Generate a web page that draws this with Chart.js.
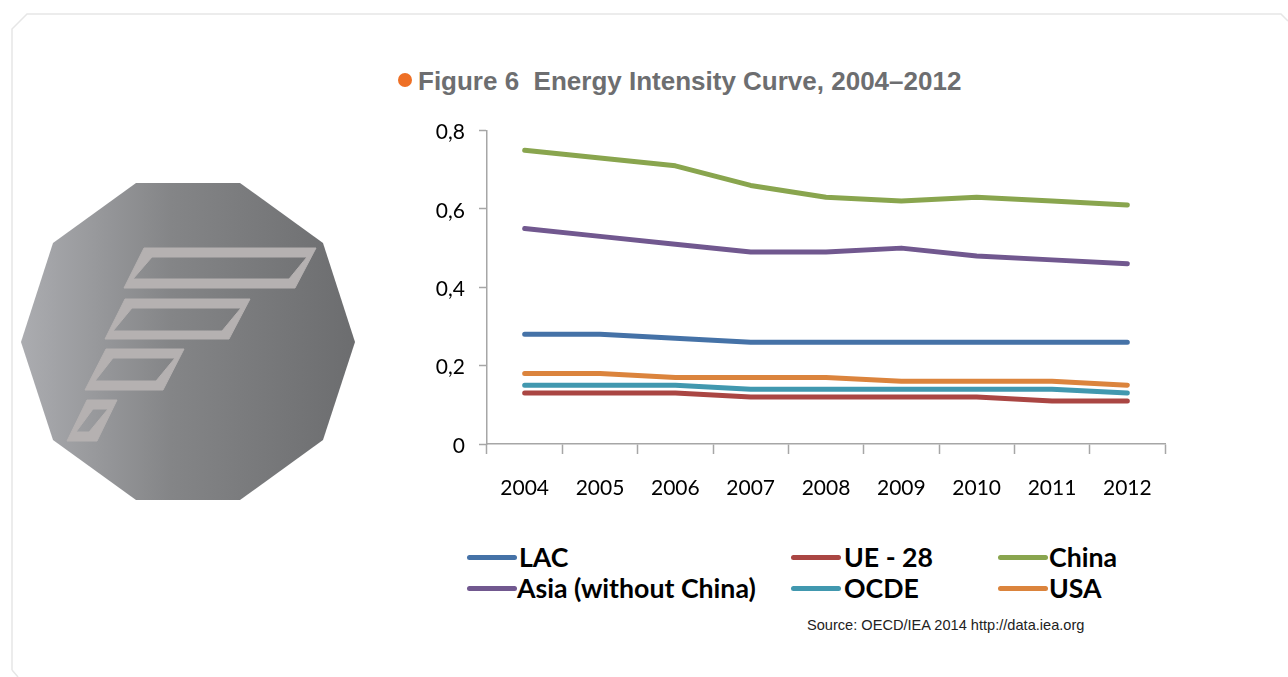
<!DOCTYPE html>
<html>
<head>
<meta charset="utf-8">
<title>Energy Intensity Curve</title>
<script src="https://cdn.jsdelivr.net/npm/chart.js@4"></script>
<style>
    html, body { margin: 0; padding: 0; background: #fff; overflow: hidden; }
    #page { position: relative; width: 1288px; height: 677px; overflow: hidden; }
    #page svg { position: absolute; left: 0; top: 0; }
    #chartBox { position: absolute; left: 400px; top: 104px; width: 800px; height: 406px; }
    #title {
        position: absolute; left: 418px; top: 66px; white-space: nowrap;
        font: bold 26px "Liberation Sans", sans-serif; color: #6d6e70;
    }
    #source {
        position: absolute; left: 807px; top: 617px; white-space: nowrap;
        font: 14.6px "Liberation Sans", sans-serif; color: #222;
    }
    .legendItem { position: absolute; height: 32px; white-space: nowrap; }
    .legendItem i { position: absolute; left: 0; top: 14px; width: 50px; height: 5px; border-radius: 3px; }
    .legendItem span {
        position: absolute; top: 0;
        font: bold 26.7px/32px Lato, sans-serif; color: #000;
    }
</style>
</head>
<body>
<div id="page">
    <svg width="1288" height="677">
        <defs>
            <linearGradient id="badge" x1="21" x2="355" y1="0" y2="0" gradientUnits="userSpaceOnUse">
                <stop offset="0" stop-color="#abacb0"/>
                <stop offset="0.45" stop-color="#848587"/>
                <stop offset="1" stop-color="#6c6d6f"/>
            </linearGradient>
        </defs>
        <path d="M12 670V29L27 14H1281L1288 21M12 670L18 677" fill="none" stroke="#e6e6e6" stroke-width="1.5"/>
        <polygon points="136,183 240,183 323,243 355,342 323,440 240,500 136,500 53,440 21,342 53,243" fill="url(#badge)"/>
        <g fill="#b5b1b1" fill-rule="evenodd" stroke="#b5b1b1" stroke-width="1" stroke-linejoin="round">
            <path d="M144 248H316L295 288H124Z M152 257L133 279H289L307 257Z"/>
            <path d="M125 299H250L229 339H105Z M132 308L113 331H222L241 308Z"/>
            <path d="M106 349H184L163 390H85Z M113 358L95 381H156L175 358Z"/>
            <path d="M87 400H117L97 441H67Z M93 409L76 432H89L108 409Z"/>
        </g>
        <circle cx="405" cy="80" r="7" fill="#ee6f25"/>
    </svg>
    <div id="title">Figure 6&nbsp; Energy Intensity Curve, 2004&#8211;2012</div>
    <div id="chartBox"><canvas id="energyChart"></canvas></div>
    <div id="legend"></div>
    <div id="source">Source: OECD/IEA 2014 http://data.iea.org</div>
</div>

<script>
const years = ['2004', '2005', '2006', '2007', '2008', '2009', '2010', '2011', '2012'];

const lac = [0.28, 0.28, 0.27, 0.26, 0.26, 0.26, 0.26, 0.26, 0.26];
const ue28 = [0.13, 0.13, 0.13, 0.12, 0.12, 0.12, 0.12, 0.11, 0.11];
const china = [0.75, 0.73, 0.71, 0.66, 0.63, 0.62, 0.63, 0.62, 0.61];
const asia = [0.55, 0.53, 0.51, 0.49, 0.49, 0.50, 0.48, 0.47, 0.46];
const ocde = [0.15, 0.15, 0.15, 0.14, 0.14, 0.14, 0.14, 0.14, 0.13];
const usa = [0.18, 0.18, 0.17, 0.17, 0.17, 0.16, 0.16, 0.16, 0.15];

const seriesNames = ['LAC', 'UE - 28', 'China', 'Asia (without China)', 'OCDE', 'USA'];
const seriesValues = [lac, ue28, china, asia, ocde, usa];
const seriesColors = ['#4572a7', '#aa4643', '#89a54e', '#71588f', '#4198af', '#db843d'];

// legend slots: swatch left, label left, row top
const legendSlots = [
    [467, 519, 541], [791, 844, 541], [998, 1049, 541],
    [467, 517, 572], [791, 844, 572], [998, 1049, 572]
];

const axisColor = '#a6a6a6';
const tickFont = { family: 'Lato, sans-serif', size: 21 };

new Chart(document.getElementById('energyChart'), {
    type: 'line',
    data: {
        labels: years,
        datasets: seriesNames.map((name, i) => ({
            label: name,
            data: seriesValues[i],
            borderColor: seriesColors[i],
            backgroundColor: seriesColors[i],
            borderWidth: 5,
            borderCapStyle: 'round',
            borderJoinStyle: 'round',
            pointRadius: 0,
            tension: 0
        }))
    },
    options: {
        responsive: true,
        maintainAspectRatio: false,
        animation: false,
        layout: { padding: { left: 0, right: 35, top: 15, bottom: 0 } },
        plugins: { legend: { display: false }, title: { display: false }, tooltip: { enabled: false } },
        scales: {
            x: {
                offset: true,
                afterFit: (scale) => { scale.height = 66; },
                grid: {
                    offset: true,
                    drawOnChartArea: false,
                    drawTicks: true,
                    tickLength: 10,
                    tickColor: axisColor,
                    tickWidth: 1.5
                },
                border: { color: axisColor, width: 1.5 },
                ticks: { color: '#000', font: tickFont, padding: 22, maxRotation: 0, autoSkip: false }
            },
            y: {
                min: 0,
                max: 0.8,
                afterFit: (scale) => { scale.width = 87; },
                grid: {
                    drawOnChartArea: false,
                    drawTicks: true,
                    tickLength: 8,
                    tickColor: axisColor,
                    tickWidth: 1.5
                },
                border: { color: axisColor, width: 1.5 },
                ticks: {
                    color: '#000',
                    font: tickFont,
                    padding: 14,
                    labelOffset: 2,
                    stepSize: 0.2,
                    callback: (value) => value === 0 ? '0' : value.toFixed(1).replace('.', ',')
                }
            }
        }
    }
});

// the legend sits on an uneven grid, so it is laid out by hand
const legendDiv = document.getElementById('legend');
seriesNames.forEach((name, i) => {
    const [swatchX, labelX, rowY] = legendSlots[i];
    const item = document.createElement('div');
    item.className = 'legendItem';
    item.style.left = swatchX + 'px';
    item.style.top = rowY + 'px';
    const swatch = document.createElement('i');
    swatch.style.background = seriesColors[i];
    const label = document.createElement('span');
    label.style.left = (labelX - swatchX) + 'px';
    label.textContent = name;
    item.append(swatch, label);
    legendDiv.appendChild(item);
});
</script>
</body>
</html>
